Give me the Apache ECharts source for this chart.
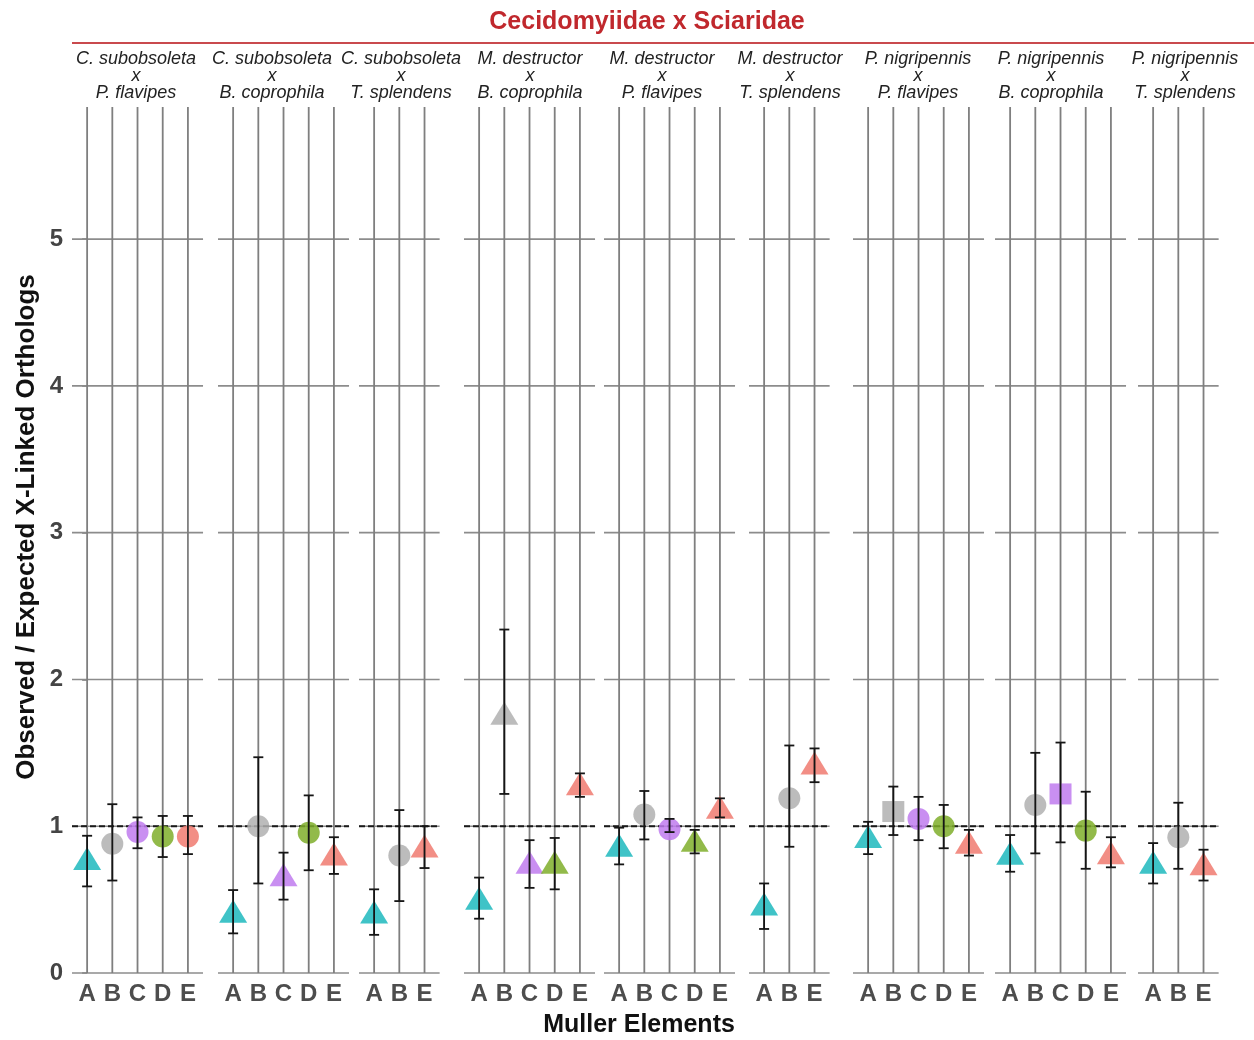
<!DOCTYPE html>
<html><head><meta charset="utf-8">
<script src="https://cdn.jsdelivr.net/npm/echarts@6/dist/echarts.min.js"></script>
<style>html,body{margin:0;padding:0;background:#fff}#c{width:1254px;height:1040px}</style>
</head><body><div id="c"></div>
<script>
// ---------------- data ----------------
const chartTitle = 'Cecidomyiidae x Sciaridae';
const yAxisTitle = 'Observed / Expected X-Linked Orthologs';
const xAxisTitle = 'Muller Elements';

const panelTitles = [
  ['C. subobsoleta', 'P. flavipes'],
  ['C. subobsoleta', 'B. coprophila'],
  ['C. subobsoleta', 'T. splendens'],
  ['M. destructor', 'B. coprophila'],
  ['M. destructor', 'P. flavipes'],
  ['M. destructor', 'T. splendens'],
  ['P. nigripennis', 'P. flavipes'],
  ['P. nigripennis', 'B. coprophila'],
  ['P. nigripennis', 'T. splendens']
];

const mullerElements = [
  ['A','B','C','D','E'],
  ['A','B','C','D','E'],
  ['A','B','E'],
  ['A','B','C','D','E'],
  ['A','B','C','D','E'],
  ['A','B','E'],
  ['A','B','C','D','E'],
  ['A','B','C','D','E'],
  ['A','B','E']
];

const ratioValues = [
  [0.78, 0.88, 0.96, 0.93, 0.93],
  [0.42, 1.00, 0.67, 0.955, 0.81],
  [0.415, 0.80, 0.865],
  [0.51, 1.77, 0.755, 0.755, 1.29],
  [0.87, 1.08, 0.98, 0.905, 1.13],
  [0.47, 1.19, 1.43],
  [0.93, 1.10, 1.05, 1.00, 0.89],
  [0.815, 1.145, 1.22, 0.97, 0.82],
  [0.755, 0.925, 0.745]
];

const ciLower = [
  [0.59, 0.63, 0.85, 0.79, 0.81],
  [0.27, 0.61, 0.50, 0.70, 0.675],
  [0.26, 0.49, 0.715],
  [0.37, 1.22, 0.58, 0.57, 1.20],
  [0.74, 0.91, 0.96, 0.815, 1.06],
  [0.30, 0.86, 1.30],
  [0.81, 0.94, 0.905, 0.85, 0.80],
  [0.69, 0.815, 0.89, 0.71, 0.72],
  [0.61, 0.71, 0.63]
];

const ciUpper = [
  [0.935, 1.15, 1.06, 1.07, 1.07],
  [0.565, 1.47, 0.82, 1.21, 0.925],
  [0.57, 1.11, 1.00],
  [0.65, 2.34, 0.905, 0.92, 1.36],
  [0.99, 1.24, 1.05, 0.975, 1.19],
  [0.61, 1.55, 1.53],
  [1.03, 1.27, 1.20, 1.145, 0.975],
  [0.94, 1.50, 1.57, 1.235, 0.925],
  [0.885, 1.16, 0.84]
];

const pointShapes = [
  ['tri','circle','circle','circle','circle'],
  ['tri','circle','tri','circle','tri'],
  ['tri','circle','tri'],
  ['tri','tri','tri','tri','tri'],
  ['tri','circle','circle','tri','tri'],
  ['tri','circle','tri'],
  ['tri','square','circle','circle','tri'],
  ['tri','circle','square','circle','tri'],
  ['tri','circle','tri']
];

const yTickValues = [0, 1, 2, 3, 4, 5];
const expectedRatio = 1;
const yMin = 0, yMax = 5.9;

// ---------------- layout & style ----------------
const FONT = '"Liberation Sans", Arial, Helvetica, sans-serif';
const panelLeft = [72, 218, 359, 464, 604, 749, 853, 995, 1138];
const panelTitleCenter = [136, 272, 401, 530, 662, 790, 918, 1051, 1185];
const unitPx = 25.2, xPad = 0.6;
const gridTop = 107, gridHeight = 866;
const elementColor = {A:'#1DB8BD', B:'#B0B0B0', C:'#BF7BEF', D:'#7FAE2A', E:'#F07A70'};
const shapeStyle = {
  tri: {symbol:'triangle', size:[28, 23]},
  circle: {symbol:'circle', size:22},
  square: {symbol:'rect', size:[22, 21]}
};

const grids = [], xAxes = [], yAxes = [], series = [], graphics = [];

panelTitles.forEach((t, i) => {
  const els = mullerElements[i];
  const n = els.length;
  const idx = els.map((_, k) => k);
  grids.push({left: panelLeft[i], top: gridTop, width: (n - 1 + 2 * xPad) * unitPx, height: gridHeight});
  xAxes.push({
    gridIndex: i, type: 'value', min: -xPad, max: n - 1 + xPad,
    axisLine: {show: false}, axisTick: {show: false}, splitLine: {show: false},
    axisLabel: {
      customValues: idx, margin: 9,
      formatter: v => { const r = Math.round(v); return Math.abs(v - r) < 1e-6 && els[r] ? els[r] : ''; },
      fontFamily: FONT, fontSize: 24, fontWeight: 'bold', color: '#4d4d4d'
    }
  });
  yAxes.push({
    gridIndex: i, type: 'value', min: yMin, max: yMax,
    axisLine: {show: false}, splitLine: {show: false},
    axisTick: {show: i === 0, customValues: yTickValues, length: 5, lineStyle: {color: '#777', width: 1.5}},
    axisLabel: {show: i === 0, customValues: yTickValues, margin: 9,
      fontFamily: FONT, fontSize: 24, fontWeight: 'bold', color: '#444'}
  });

  // horizontal gridlines
  series.push({
    type: 'custom', xAxisIndex: i, yAxisIndex: i, z: 1, silent: true, clip: false,
    data: yTickValues.map(v => [0, v]), encode: {x: 0, y: 1},
    renderItem: (params, api) => {
      const cs = params.coordSys; const p = api.coord([0, api.value(1)]);
      return {type: 'line', shape: {x1: cs.x, y1: p[1], x2: cs.x + cs.width, y2: p[1]},
        style: {stroke: '#8c8c8c', lineWidth: 1.6}};
    }
  });
  // vertical lines at each element
  series.push({
    type: 'custom', xAxisIndex: i, yAxisIndex: i, z: 1, silent: true, clip: false,
    data: idx.map(k => [k, yMin, yMax]), encode: {x: 0, y: [1, 2]},
    renderItem: (params, api) => {
      const a = api.coord([api.value(0), api.value(1)]);
      const b = api.coord([api.value(0), api.value(2)]);
      return {type: 'line', shape: {x1: a[0], y1: a[1], x2: b[0], y2: b[1]},
        style: {stroke: '#7f7f7f', lineWidth: 1.8}};
    }
  });
  // expected ratio dashed line
  series.push({
    type: 'custom', xAxisIndex: i, yAxisIndex: i, z: 2, silent: true, clip: false,
    data: [[0, expectedRatio]], encode: {x: 0, y: 1},
    renderItem: (params, api) => {
      const cs = params.coordSys; const p = api.coord([0, api.value(1)]);
      return {type: 'line', shape: {x1: cs.x, y1: p[1], x2: cs.x + cs.width, y2: p[1]},
        style: {stroke: '#1a1a1a', lineWidth: 2, lineDash: [6, 3]}};
    }
  });
  // points
  series.push({
    type: 'scatter', xAxisIndex: i, yAxisIndex: i, z: 3, silent: true,
    data: ratioValues[i].map((v, k) => {
      const s = shapeStyle[pointShapes[i][k]];
      return {value: [k, v], symbol: s.symbol, symbolSize: s.size,
        itemStyle: {color: elementColor[els[k]], opacity: 0.85}};
    })
  });
  // error bars
  series.push({
    type: 'custom', xAxisIndex: i, yAxisIndex: i, z: 4, silent: true, clip: false,
    data: idx.map(k => [k, ciLower[i][k], ciUpper[i][k]]), encode: {x: 0, y: [1, 2]},
    renderItem: (params, api) => {
      const lo = api.coord([api.value(0), api.value(1)]);
      const hi = api.coord([api.value(0), api.value(2)]);
      const st = {stroke: '#151515', lineWidth: 1.8};
      const w = 5;
      return {type: 'group', children: [
        {type: 'line', shape: {x1: lo[0], y1: lo[1], x2: hi[0], y2: hi[1]}, style: st},
        {type: 'line', shape: {x1: lo[0] - w, y1: lo[1], x2: lo[0] + w, y2: lo[1]}, style: st},
        {type: 'line', shape: {x1: hi[0] - w, y1: hi[1], x2: hi[0] + w, y2: hi[1]}, style: st}
      ]};
    }
  });

  graphics.push({
    type: 'text', x: panelTitleCenter[i], y: 50, silent: true,
    style: {text: t[0] + '\nx\n' + t[1], align: 'center', verticalAlign: 'top',
      fontFamily: FONT, fontSize: 18, fontStyle: 'italic', lineHeight: 17, fill: '#222'}
  });
});

graphics.push(
  {type: 'text', x: 647, y: 10, silent: true,
    style: {text: chartTitle, align: 'center', verticalAlign: 'top', fontFamily: FONT,
      fontSize: 25, fontWeight: 'bold', fill: '#C0282D'}},
  {type: 'line', silent: true, shape: {x1: 72, y1: 43, x2: 1254, y2: 43},
    style: {stroke: '#C94A4D', lineWidth: 2}},
  {type: 'text', x: 27, y: 527, rotation: Math.PI / 2, silent: true,
    style: {text: yAxisTitle, align: 'center', verticalAlign: 'middle', fontFamily: FONT,
      fontSize: 26, fontWeight: 'bold', fill: '#111'}},
  {type: 'text', x: 639, y: 1013, silent: true,
    style: {text: xAxisTitle, align: 'center', verticalAlign: 'top', fontFamily: FONT,
      fontSize: 25, fontWeight: 'bold', fill: '#111'}}
);

const chart = echarts.init(document.getElementById('c'), null, {renderer: 'canvas'});
chart.setOption({
  animation: false, backgroundColor: '#fff',
  grid: grids, xAxis: xAxes, yAxis: yAxes, series: series, graphic: graphics
});
</script></body></html>
